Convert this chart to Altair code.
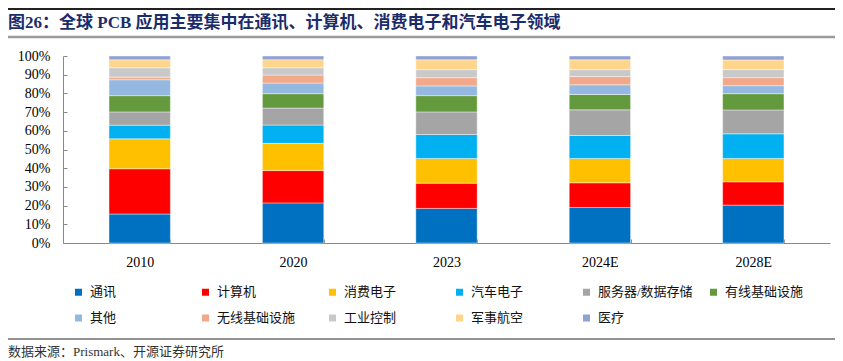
import altair as alt
import pandas as pd

title_text = "图26：全球 PCB 应用主要集中在通讯、计算机、消费电子和汽车电子领域"
source_text = "数据来源：Prismark、开源证券研究所"

years = ["2010", "2020", "2023", "2024E", "2028E"]
categories = ["通讯", "计算机", "消费电子", "汽车电子", "服务器/数据存储", "有线基础设施",
              "其他", "无线基础设施", "工业控制", "军事航空", "医疗"]
colors = ["#0070C0", "#FF0000", "#FFC000", "#00B0F0", "#A5A5A5", "#639A3E",
          "#95B8E0", "#F2A98A", "#C9C9C9", "#FFD58C", "#8FA1D5"]

v2010 = [15.5, 24.2, 16.0, 7.3, 7.1, 8.7, 8.5, 1.4, 5.0, 4.3, 2.0]
v2020 = [21.5, 17.3, 14.6, 9.8, 9.1, 7.7, 5.7, 4.3, 3.9, 4.3, 2.0]
v2023 = [18.5, 13.5, 13.2, 12.8, 12.1, 8.7, 5.2, 4.4, 4.3, 5.3, 2.0]
v2024 = [19.0, 13.2, 13.0, 12.3, 13.7, 8.2, 5.2, 4.4, 3.7, 5.3, 2.0]
v2028 = [20.3, 12.5, 12.5, 13.2, 12.8, 8.7, 4.3, 4.3, 4.3, 5.2, 2.1]

series = [v2010, v2020, v2023, v2024, v2028]
rows = []
for y, vals in zip(years, series):
    for i, (c, v) in enumerate(zip(categories, vals)):
        rows.append({"year": y, "cat": c, "idx": i, "val": v})
df = pd.DataFrame(rows)

FONT = "Liberation Serif, Noto Sans CJK SC"
AX = "#898989"

bars = alt.Chart(df).mark_bar(stroke="white", strokeWidth=0.6, strokeOpacity=0.7).encode(
    x=alt.X("year:N", sort=years, title=None,
            scale=alt.Scale(paddingInner=0.6, paddingOuter=0.3),
            axis=alt.Axis(labelAngle=0, labelFont=FONT, labelFontSize=14, labelColor="#000",
                          domainColor=AX, tickColor=AX, tickBand="extent",
                          tickSize={"expr": "-4"}, labelPadding=16)),
    y=alt.Y("val:Q", stack="normalize", title=None,
            scale=alt.Scale(domain=[0, 1]),
            axis=alt.Axis(format=".0%", values=[i / 10 for i in range(11)], grid=False,
                          labelFont=FONT, labelFontSize=14, labelColor="#000",
                          domainColor=AX, tickColor=AX, tickSize={"expr": "-4"},
                          labelPadding=17)),
    color=alt.Color("cat:N", sort=categories,
                    scale=alt.Scale(domain=categories, range=colors),
                    legend=alt.Legend(title=None, orient="none", legendX=9, legendY=229.5,
                                      direction="horizontal",
                                      columns=6, gridAlign="all", columnPadding=14,
                                      rowPadding=12, symbolType="square", symbolSize=49,
                                      symbolStrokeWidth=0, labelFont=FONT, labelFontSize=13,
                                      labelColor="#111", labelOffset=5)),
    order=alt.Order("idx:Q", sort="ascending"),
)

one = pd.DataFrame({"a": [0]})

title = alt.Chart(pd.DataFrame({"t": [title_text]})).mark_text(
    align="left", baseline="middle", font=FONT, fontSize=17, fontWeight="bold", color="#1B2C6B"
).encode(x=alt.value(-55), y=alt.value(-33), text="t:N")

source = alt.Chart(pd.DataFrame({"t": [source_text]})).mark_text(
    align="left", baseline="middle", font=FONT, fontSize=13, color="#333333"
).encode(x=alt.value(-55), y=alt.value(296), text="t:N")

top_line = alt.Chart(one).mark_rule(color="#222222", strokeWidth=2).encode(
    x=alt.value(-55), x2=alt.value(780), y=alt.value(-47))
title_line = alt.Chart(one).mark_rule(color="#9A9A9A", strokeWidth=2.5).encode(
    x=alt.value(-55), x2=alt.value(780), y=alt.value(-19))
foot_line = alt.Chart(one).mark_rule(color="#6E6E6E", strokeWidth=1.5).encode(
    x=alt.value(-55), x2=alt.value(780), y=alt.value(283))

chart = alt.layer(top_line, title_line, foot_line, title, source, bars).properties(
    width=767, height=187,
    autosize=alt.AutoSizeParams(type="none"),
    padding={"left": 55, "top": 48, "right": 5, "bottom": 118},
).configure_view(stroke=None)

chart.save("out.html", embed_options={"renderer": "svg", "actions": False})
